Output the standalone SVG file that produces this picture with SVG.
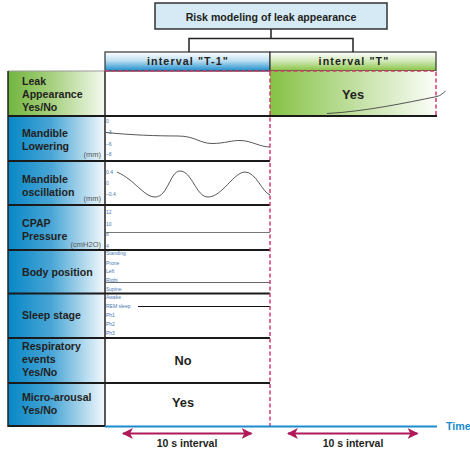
<svg xmlns="http://www.w3.org/2000/svg" width="470" height="449" viewBox="0 0 470 449">
<defs>
<linearGradient id="gBlueH" x1="0" y1="0" x2="1" y2="0">
<stop offset="0" stop-color="#0787c6"/><stop offset="0.45" stop-color="#4aa6d6"/><stop offset="1" stop-color="#f4f9fc"/>
</linearGradient>
<linearGradient id="gGreenH" x1="0" y1="0" x2="1" y2="0">
<stop offset="0" stop-color="#72b53f"/><stop offset="0.45" stop-color="#a6d07e"/><stop offset="1" stop-color="#f5faf0"/>
</linearGradient>
<linearGradient id="gGreenT" x1="0" y1="0" x2="1" y2="0">
<stop offset="0" stop-color="#86c245"/><stop offset="0.5" stop-color="#c0df9f"/><stop offset="1" stop-color="#fbfdf8"/>
</linearGradient>
<linearGradient id="gHeadBlue" x1="0" y1="0" x2="0" y2="1">
<stop offset="0" stop-color="#ffffff"/><stop offset="0.45" stop-color="#bfe0f2"/><stop offset="1" stop-color="#1b8ccb"/>
</linearGradient>
<linearGradient id="gHeadGreen" x1="0" y1="0" x2="0" y2="1">
<stop offset="0" stop-color="#ffffff"/><stop offset="0.45" stop-color="#d4eabc"/><stop offset="1" stop-color="#86c241"/>
</linearGradient>
<marker id="ah" viewBox="0 0 10 10" refX="9" refY="5" markerWidth="5.5" markerHeight="5.5" orient="auto-start-reverse" markerUnits="strokeWidth">
<path d="M0 0 L10 5 L0 10 L2.5 5 Z" fill="#b0195a"/>
</marker>
<style>
.lbl{font-family:"Liberation Sans",Arial,sans-serif;font-weight:bold;font-size:10.6px;fill:#231f20}
.big{font-family:"Liberation Sans",Arial,sans-serif;font-weight:bold;font-size:12.8px;fill:#231f20;text-anchor:middle}
.hdr{font-family:"Liberation Sans",Arial,sans-serif;font-weight:bold;font-size:10.7px;fill:#231f20;text-anchor:middle;letter-spacing:1.1px}
.unit{font-family:"Liberation Sans",Arial,sans-serif;font-size:7.5px;fill:#555;text-anchor:end}
.ax{font-family:"Liberation Sans",Arial,sans-serif;font-size:5px;fill:#4678b0}
.sep{stroke:#1a1a1a;stroke-width:2}
.pink{stroke:#d43a6f;stroke-width:1.5;stroke-dasharray:4 2.5;fill:none}
.curve{stroke:#444;stroke-width:0.9;fill:none}
.tree{stroke:#222;stroke-width:1.5;fill:none}
.arr{stroke:#b0195a;stroke-width:2;marker-start:url(#ah);marker-end:url(#ah)}
.ivl{font-family:"Liberation Sans",Arial,sans-serif;font-weight:bold;font-size:10.5px;fill:#231f20;text-anchor:middle}
</style>
</defs>
<rect width="470" height="449" fill="#ffffff"/>
<rect x="8" y="116" width="97" height="310" fill="url(#gBlueH)"/>

<g id="title">
<rect x="155" y="3" width="232" height="26" fill="#d6eaf6" stroke="#333" stroke-width="1.5"/>
<text class="lbl" x="271" y="20.5" text-anchor="middle">Risk modeling of leak appearance</text>
</g>

<g id="header-t1">
<rect x="105" y="52" width="165" height="19" fill="url(#gHeadBlue)" stroke="#333" stroke-width="1.2"/>
<text class="hdr" x="188" y="65">interval "T-1"</text>
</g>

<g id="header-t">
<rect x="270" y="52" width="166" height="19" fill="url(#gHeadGreen)" stroke="#333" stroke-width="1.2"/>
<text class="hdr" x="354" y="65">interval "T"</text>
</g>

<g id="row-leak">
<rect x="8" y="71" width="97" height="45" fill="url(#gGreenH)"/>
<rect x="270" y="71" width="166" height="45" fill="url(#gGreenT)"/>
<line x1="8" y1="71" x2="105" y2="71" stroke="#999" stroke-width="1"/>
<text class="lbl" x="22" y="85">Leak</text>
<text class="lbl" x="22" y="98">Appearance</text>
<text class="lbl" x="22" y="111">Yes/No</text>
<text class="big" x="353" y="99">Yes</text>
<path class="curve" d="M327 113.5 C365 111.5 405 103 437 96.5 C441 95.5 443 93 445.5 91"/>
</g>

<g id="row-mandible-lowering">
<text class="lbl" x="22" y="137">Mandible</text>
<text class="lbl" x="22" y="150">Lowering</text>
<text class="unit" x="101" y="157">(mm)</text>
<text class="ax" x="106" y="122.5">0</text>
<text class="ax" x="106" y="134">–3</text>
<text class="ax" x="106" y="145.5">–6</text>
<text class="ax" x="106" y="156">–8</text>
<path class="curve" d="M106 132.5 C130 135 158 136 178 136 C195 136 200 143.5 212 143.5 C225 143.5 232 140 241 140.5 C252 141 260 147 270 147"/>
</g>

<g id="row-mandible-oscillation">
<text class="lbl" x="22" y="183">Mandible</text>
<text class="lbl" x="22" y="196">oscillation</text>
<text class="unit" x="101" y="201">(mm)</text>
<text class="ax" x="106" y="173.5">0.4</text>
<text class="ax" x="106" y="184.5">0</text>
<text class="ax" x="106" y="195.5">–0.4</text>
<path class="curve" d="M117 172 C135 180 144 197 155 197 C168 197 170 171 180 171 C192 171 196 197 208 197 C222 197 234 172 245 172 C256 172 262 192 270 195"/>
</g>

<g id="row-cpap">
<text class="lbl" x="22" y="226.5">CPAP</text>
<text class="lbl" x="22" y="239.5">Pressure</text>
<text class="unit" x="101" y="247">(cmH2O)</text>
<text class="ax" x="106" y="214">12</text>
<text class="ax" x="106" y="226">10</text>
<text class="ax" x="106" y="236">8</text>
<text class="ax" x="106" y="247.5">4</text>
<line x1="106" y1="232.5" x2="270" y2="232.5" stroke="#777" stroke-width="1"/>
</g>

<g id="row-body-position">
<text class="lbl" x="22" y="276">Body position</text>
<text class="ax" x="106" y="255">Standing</text>
<text class="ax" x="106" y="265">Prone</text>
<text class="ax" x="106" y="273">Left</text>
<text class="ax" x="106" y="281.5">Right</text>
<text class="ax" x="106" y="291">Supine</text>
<line x1="106" y1="282.5" x2="270" y2="282.5" stroke="#666" stroke-width="1"/>
</g>

<g id="row-sleep-stage">
<text class="lbl" x="22" y="319">Sleep stage</text>
<text class="ax" x="106" y="298.5">Awake</text>
<text class="ax" x="106" y="308">REM sleep</text>
<text class="ax" x="106" y="317">Ph1</text>
<text class="ax" x="106" y="326">Ph2</text>
<text class="ax" x="106" y="334.5">Ph3</text>
<line x1="138" y1="306.5" x2="270" y2="306.5" stroke="#111" stroke-width="1"/>
</g>

<g id="row-respiratory">
<text class="lbl" x="22" y="350">Respiratory</text>
<text class="lbl" x="22" y="363">events</text>
<text class="lbl" x="22" y="376">Yes/No</text>
<text class="big" x="183" y="365">No</text>
</g>

<g id="row-micro-arousal">
<text class="lbl" x="22" y="401">Micro-arousal</text>
<text class="lbl" x="22" y="414">Yes/No</text>
<text class="big" x="183" y="407">Yes</text>
</g>

<g id="grid">
<line class="sep" x1="8" y1="116" x2="437" y2="116"/>
<line class="sep" x1="8" y1="161" x2="270" y2="161"/>
<line class="sep" x1="8" y1="205" x2="270" y2="205"/>
<line class="sep" x1="8" y1="250" x2="270" y2="250"/>
<line class="sep" x1="8" y1="293.5" x2="270" y2="293.5"/>
<line class="sep" x1="8" y1="338" x2="270" y2="338"/>
<line class="sep" x1="8" y1="383" x2="270" y2="383"/>
<line x1="8" y1="426" x2="105" y2="426" stroke="#1a1a1a" stroke-width="1.8"/>
<line x1="8" y1="71" x2="8" y2="427" stroke="#222" stroke-width="1.5"/>
<line x1="105" y1="71" x2="105" y2="427" stroke="#222" stroke-width="1.5"/>
<line class="pink" x1="105" y1="71" x2="436" y2="71" stroke-dasharray="2 1.5" stroke-width="1.2"/>
<line class="pink" x1="270" y1="72" x2="270" y2="426"/>
<line class="pink" x1="436" y1="72" x2="436" y2="116"/>
</g>

<g id="connectors">
<path class="tree" d="M271 29 V38.5 M189 52 V38.5 H353 V52"/>
<line x1="105" y1="426.5" x2="437" y2="426.5" stroke="#1b8ccb" stroke-width="1.8"/>
<text x="446" y="430" font-family="Liberation Sans, Arial, sans-serif" font-weight="bold" font-size="10.7" fill="#1b8ccb">Time</text>
<line class="arr" x1="123" y1="433.5" x2="251.5" y2="433.5"/>
<line class="arr" x1="288" y1="433.5" x2="417.5" y2="433.5"/>
<text class="ivl" x="187" y="447">10 s interval</text>
<text class="ivl" x="353" y="447">10 s interval</text>
</g>
</svg>
